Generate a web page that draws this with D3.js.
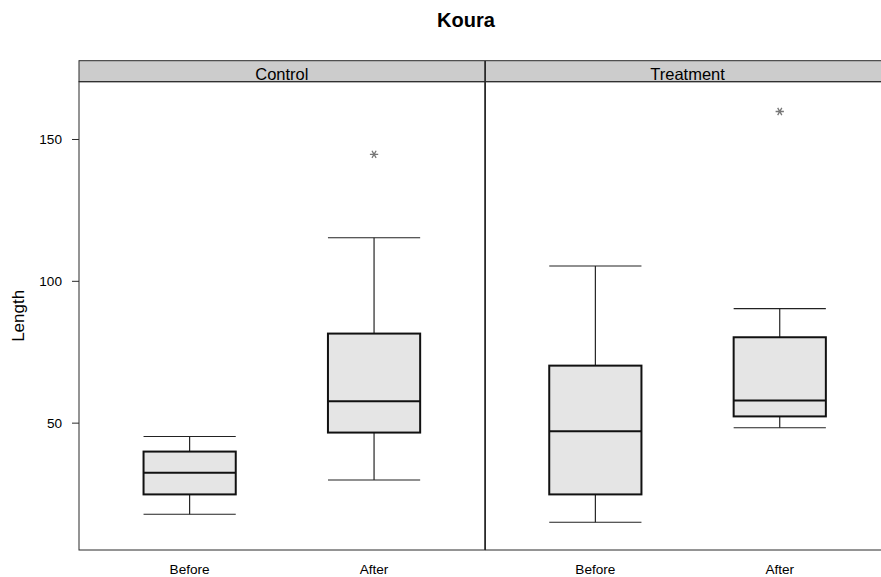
<!DOCTYPE html>
<html>
<head>
<meta charset="utf-8">
<script src="https://cdn.jsdelivr.net/npm/d3@7"></script>
<style>
  body { margin: 0; background: #fff; }
  text { font-family: "Liberation Sans", Arial, sans-serif; fill: #000; }
</style>
</head>
<body>
<div id="chart"></div>
<script>
// data (one entry per box)
const panels = ["Control", "Treatment"];
const periods = ["Before", "After"];
const panelOf = ["Control", "Control", "Treatment", "Treatment"];
const periodOf = ["Before", "After", "Before", "After"];
const whiskerLow = [17.7, 29.8, 14.9, 48.2];
const q1 = [24.7, 46.5, 24.7, 52.2];
const median = [32.3, 57.5, 47.0, 57.8];
const q3 = [39.8, 81.4, 70.1, 80.1];
const whiskerHigh = [45.1, 115.2, 105.2, 90.2];
const outliers = [[], [144.6], [], [159.7]];
const yTicks = [50, 100, 150];

const width = 881, height = 577;
const left = 79, panelW = 405.7;
const stripTop = 60.7, stripH = 21, plotTop = stripTop + stripH, plotBottom = 550;

const svg = d3.select("#chart").append("svg")
    .attr("width", width)
    .attr("height", height);

// scales
const xPanel = d3.scaleBand().domain(panels).range([left, left + panelW * panels.length]).padding(0);
const xIn = d3.scalePoint().domain(periods).range([0, panelW]).padding(0.6);
const y = d3.scaleLinear().domain([5.1, 170.2]).range([plotBottom, plotTop]);
const boxW = xIn.step() * 0.5;

// title
svg.append("text")
    .attr("x", 466).attr("y", 27)
    .attr("text-anchor", "middle")
    .style("font-size", "20px").style("font-weight", "bold")
    .text("Koura");

// y label
svg.append("text")
    .attr("transform", "translate(24," + ((plotTop + plotBottom) / 2) + ") rotate(-90)")
    .attr("text-anchor", "middle")
    .style("font-size", "17px")
    .text("Length");

// panels
panels.forEach(function(p, i) {
    const g = svg.append("g").attr("transform", "translate(" + xPanel(p) + ",0)");
    const off = i === 0 ? 0 : 0.8;

    // strip
    g.append("rect")
        .attr("x", off).attr("y", stripTop)
        .attr("width", panelW - off).attr("height", stripH)
        .attr("fill", "#cccccc").attr("stroke", "#2a2a2a").attr("stroke-width", 1);
    g.append("text")
        .attr("x", panelW / 2).attr("y", plotTop - 1.5)
        .attr("text-anchor", "middle")
        .style("font-size", "16.5px")
        .text(p);

    // panel frame
    g.append("rect")
        .attr("x", off).attr("y", plotTop)
        .attr("width", panelW - off).attr("height", plotBottom - plotTop)
        .attr("fill", "none").attr("stroke", "#2a2a2a").attr("stroke-width", 1);

    // x labels
    g.selectAll("text.xlab").data(periods).enter().append("text")
        .attr("class", "xlab")
        .attr("x", d => xIn(d)).attr("y", 574)
        .attr("text-anchor", "middle")
        .style("font-size", "13.6px")
        .text(d => d);
});

// y axis on the left panel
const yAxis = d3.axisLeft(y).tickValues(yTicks).tickSize(7).tickPadding(10);
const ya = svg.append("g").attr("transform", "translate(" + left + ",0)").call(yAxis);
ya.select(".domain").remove();
ya.selectAll("line").attr("stroke", "#2a2a2a");
ya.selectAll("text").style("font-size", "13.6px").style("font-family", "'Liberation Sans', Arial, sans-serif");

// boxes
const idx = d3.range(median.length);
const boxes = svg.selectAll("g.box").data(idx).enter().append("g")
    .attr("class", "box")
    .attr("transform", i => "translate(" + (xPanel(panelOf[i]) + xIn(periodOf[i])) + ",0)");

// whiskers
boxes.append("line")
    .attr("x1", 0).attr("x2", 0)
    .attr("y1", i => y(q3[i])).attr("y2", i => y(whiskerHigh[i]))
    .attr("stroke", "#111").attr("stroke-width", 1.1);
boxes.append("line")
    .attr("x1", 0).attr("x2", 0)
    .attr("y1", i => y(q1[i])).attr("y2", i => y(whiskerLow[i]))
    .attr("stroke", "#111").attr("stroke-width", 1.1);
boxes.append("line")
    .attr("x1", -boxW / 2).attr("x2", boxW / 2)
    .attr("y1", i => y(whiskerHigh[i])).attr("y2", i => y(whiskerHigh[i]))
    .attr("stroke", "#222").attr("stroke-width", 1.1);
boxes.append("line")
    .attr("x1", -boxW / 2).attr("x2", boxW / 2)
    .attr("y1", i => y(whiskerLow[i])).attr("y2", i => y(whiskerLow[i]))
    .attr("stroke", "#222").attr("stroke-width", 1.1);

// box
boxes.append("rect")
    .attr("x", -boxW / 2).attr("width", boxW)
    .attr("y", i => y(q3[i])).attr("height", i => y(q1[i]) - y(q3[i]))
    .attr("fill", "#e5e5e5").attr("stroke", "#111").attr("stroke-width", 2);

// median
boxes.append("line")
    .attr("x1", -boxW / 2).attr("x2", boxW / 2)
    .attr("y1", i => y(median[i])).attr("y2", i => y(median[i]))
    .attr("stroke", "#111").attr("stroke-width", 2);

// outliers
const star = d3.symbol().type(d3.symbolAsterisk).size(48);
boxes.selectAll("path.out").data(i => outliers[i]).enter().append("path")
    .attr("class", "out")
    .attr("d", star)
    .attr("transform", d => "translate(0," + y(d) + ") rotate(90)")
    .attr("fill", "none").attr("stroke", "#777").attr("stroke-width", 1.3);
</script>
</body>
</html>
